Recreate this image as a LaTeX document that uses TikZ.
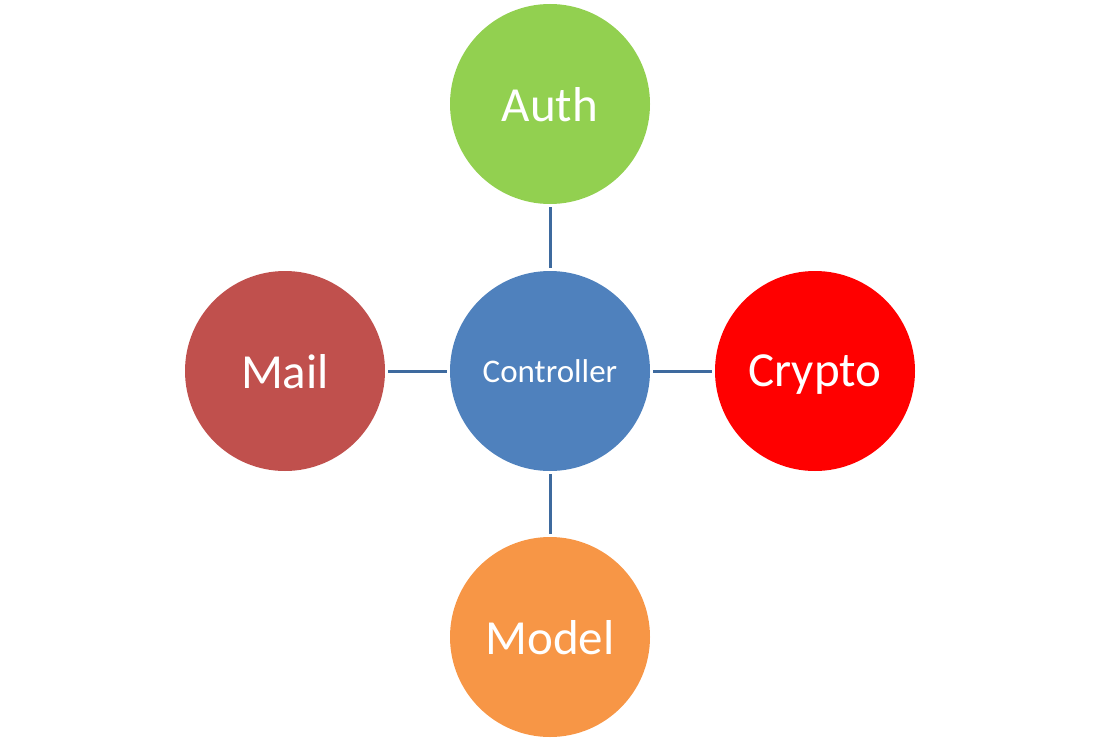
\documentclass[tikz,border=0pt]{standalone}
\usepackage{fontspec}
\setmainfont{Carlito}
\definecolor{ctrl}{HTML}{4F81BD}
\definecolor{auth}{HTML}{92D050}
\definecolor{mail}{HTML}{C0504D}
\definecolor{crypto}{HTML}{FF0000}
\definecolor{model}{HTML}{F79646}
\definecolor{link}{HTML}{3E6A9E}
\begin{document}
\begin{tikzpicture}[x=1pt,y=-1pt,
  comp/.style={circle,minimum size=200pt,inner sep=0pt,text depth=0pt,text=white,font=\fontsize{49}{58}\selectfont},
  conn/.style={draw=link,line width=3pt,shorten <=3pt,shorten >=3pt}]
\useasboundingbox (0,0) rectangle (1100,741);
\node[comp,fill=ctrl,font=\fontsize{33}{40}\selectfont] (c) at (550,371) {Controller};
\node[comp,fill=auth] (a) at (550,104) {Auth};
\node[comp,fill=model] (m) at (550,637) {Model};
\node[comp,fill=mail] (l) at (285,371) {Mail};
\node[comp,fill=crypto] (k) at (815,371) {Crypto};
\draw[conn] (a) -- (c);
\draw[conn] (c) -- (m);
\draw[conn] (l) -- (c);
\draw[conn] (c) -- (k);
\end{tikzpicture}
\end{document}
